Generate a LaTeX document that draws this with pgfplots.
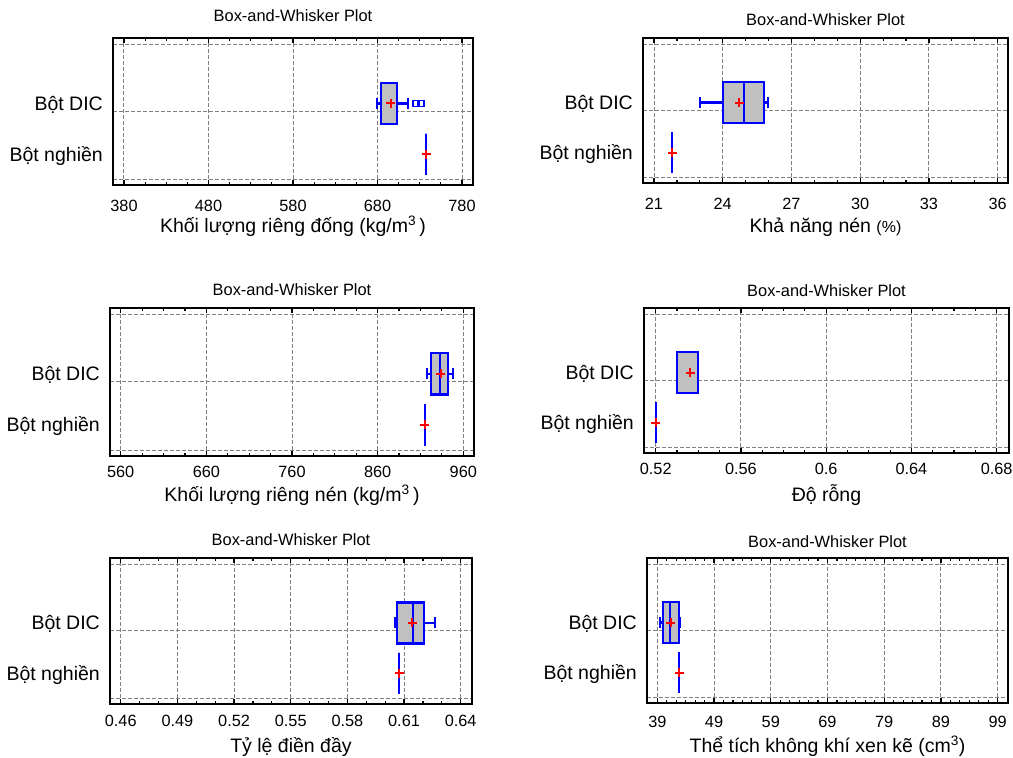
\documentclass[border=0pt]{standalone}
\usepackage{fontspec}
\setmainfont{Liberation Sans}
\usepackage{pgfplots}
\pgfplotsset{compat=1.18}
\usepgfplotslibrary{statistics}
\definecolor{boxgray}{RGB}{192,192,192}
\definecolor{gridgray}{RGB}{128,128,128}
\pgfplotsset{
  bw/.style={
    scale only axis,
    ymin=0, ymax=1,
    axis line style={line width=2.8pt},
    tick align=inside,
    xtick pos=both,
    ytick pos=left,
    ytick={0.04,0.5,0.958},
    yticklabels={},
    y tick style={draw=none},
    extra y ticks={0.21,0.555},
    extra y tick labels={Bột nghiền,Bột DIC},
    extra y tick style={grid=none},
    yticklabel style={font=\fontsize{19.5}{22}\selectfont, anchor=base east, inner sep=0pt, xshift=-10pt, yshift=-7pt},
    xmajorgrids, ymajorgrids,
    major grid style={gridgray, line width=1pt, dash pattern=on 4pt off 2pt},
    tick style={black, line width=1.2pt},
    major tick length=5pt, minor tick length=3pt,
    /pgf/number format/assume math mode=true,
    /pgf/number format/fixed,
    xticklabel style={font=\fontsize{16.3}{19}\selectfont, anchor=base, inner sep=0pt},
    title style={font=\fontsize{16.4}{19}\selectfont, anchor=base, at={(axis description cs:0.5,1)}, inner sep=0pt},
    xlabel style={font=\fontsize{19.5}{22}\selectfont, anchor=base, at={(axis description cs:0.5,0)}, inner sep=0pt},
    title={Box-and-Whisker Plot},
    boxplot/draw direction=x,
    boxplot/box extend=0.28,
    boxplot/whisker extend=0.075,
  },
  dic/.style={boxplot prepared={#1, draw position=0.555}, draw=blue, fill=boxgray, line width=2.3pt},
  ngh/.style={boxplot prepared={#1, draw position=0.21}, draw=blue, line width=2.3pt},
  mean/.style={only marks, mark=+, mark size=4.5pt, red, line width=2pt, forget plot},
  med/.style={blue, line width=2.3pt, forget plot},
}
\begin{document}
\begin{tikzpicture}[x=1pt,y=1pt]
\path[use as bounding box] (0pt,0pt) rectangle (1013pt,758pt);

% Panel 1
\begin{axis}[bw, at={(113pt,573pt)}, anchor=south west, width=360pt, height=147pt,
  xmin=367, xmax=793, xtick={380,480,580,680,780}, minor x tick num=3,
  xticklabel style={yshift=-26.5pt}, title style={yshift=10pt}, xlabel style={yshift=-48pt},
  xlabel={Khối lượng riêng đống (kg/m\textsuperscript{3}\,)}]
\addplot[dic={lower whisker=679, lower quartile=684, median=684.5, upper quartile=702.7, upper whisker=716}] coordinates {};
\addplot[mean] coordinates {(695.6,0.555)};
\addplot[only marks, mark=square, mark size=3pt, blue, line width=1.5pt] coordinates {(725.6,0.555) (731.5,0.555)};
\addplot[mean] coordinates {(737.4,0.21)};
\addplot[ngh={lower whisker=737.4, lower quartile=737.4, median=737.4, upper quartile=737.4, upper whisker=737.4}] coordinates {};
\end{axis}

% Panel 2
\begin{axis}[bw, at={(643pt,575pt)}, anchor=south west, width=365pt, height=145pt,
  xmin=20.52, xmax=36.45, xtick={21,24,27,30,33,36}, minor x tick num=2,
  xticklabel style={yshift=-26.5pt}, title style={yshift=6pt}, xlabel style={yshift=-50pt},
  xlabel={Khả năng nén {\fontsize{16}{19}\selectfont (\%)}}]
\addplot[dic={lower whisker=23.0, lower quartile=24.0, median=24.94, upper quartile=25.8, upper whisker=25.99}] coordinates {};
\addplot[mean] coordinates {(24.71,0.555)};
\addplot[med] coordinates {(24.94,0.415) (24.94,0.695)};
\addplot[mean] coordinates {(21.8,0.21)};
\addplot[ngh={lower whisker=21.8, lower quartile=21.8, median=21.8, upper quartile=21.8, upper whisker=21.8}] coordinates {};
\end{axis}

% Panel 3
\begin{axis}[bw, at={(110pt,302pt)}, anchor=south west, width=364pt, height=148pt,
  xmin=547.5, xmax=972.5, xtick={560,660,760,860,960}, minor x tick num=3,
  xticklabel style={yshift=-22pt}, title style={yshift=6pt}, xlabel style={yshift=-45.7pt},
  xlabel={Khối lượng riêng nén (kg/m\textsuperscript{3}\,)}]
\addplot[dic={lower whisker=917.9, lower quartile=921.9, median=932.8, upper quartile=942.4, upper whisker=947.6}] coordinates {};
\addplot[mean] coordinates {(933.5,0.555)};
\addplot[med] coordinates {(932.8,0.415) (932.8,0.695)};
\addplot[mean] coordinates {(914.9,0.21)};
\addplot[ngh={lower whisker=914.9, lower quartile=914.9, median=914.9, upper quartile=914.9, upper whisker=914.9}] coordinates {};
\end{axis}

% Panel 4
\begin{axis}[bw, at={(644pt,305pt)}, anchor=south west, width=365pt, height=145pt,
  xmin=0.5145, xmax=0.6858, xtick={0.52,0.56,0.6,0.64,0.68}, minor x tick num=3,
  xticklabel style={yshift=-22pt}, title style={yshift=5pt}, xlabel style={yshift=-48.7pt},
  xlabel={Độ rỗng}]
\addplot[dic={lower whisker=0.5299, lower quartile=0.5299, median=0.5299, upper quartile=0.5400, upper whisker=0.5400}] coordinates {};
\addplot[mean] coordinates {(0.5362,0.555)};
\addplot[mean] coordinates {(0.5200,0.21)};
\addplot[ngh={lower whisker=0.5200, lower quartile=0.5200, median=0.5200, upper quartile=0.5200, upper whisker=0.5200}] coordinates {};
\end{axis}

% Panel 5
\begin{axis}[bw, at={(110pt,54pt)}, anchor=south west, width=362pt, height=146pt,
  xmin=0.4543, xmax=0.646, xtick={0.46,0.49,0.52,0.55,0.58,0.61,0.64}, minor x tick num=2,
  xticklabel style={yshift=-22.5pt}, title style={yshift=6pt}, xlabel style={yshift=-49pt},
  xlabel={Tỷ lệ điền đầy}]
\addplot[dic={lower whisker=0.6052, lower quartile=0.6061, median=0.6149, upper quartile=0.6206, upper whisker=0.6264}] coordinates {};
\addplot[mean] coordinates {(0.6144,0.555)};
\addplot[med] coordinates {(0.6149,0.415) (0.6149,0.695)};
\addplot[mean] coordinates {(0.6075,0.21)};
\addplot[ngh={lower whisker=0.6075, lower quartile=0.6075, median=0.6075, upper quartile=0.6075, upper whisker=0.6075}] coordinates {};
\end{axis}

% Panel 6
\begin{axis}[bw, at={(647pt,55pt)}, anchor=south west, width=361pt, height=145pt,
  xmin=37.18, xmax=100.82, xtick={39,49,59,69,79,89,99}, minor x tick num=5,
  xticklabel style={yshift=-25pt}, title style={yshift=4pt}, xlabel style={yshift=-49.7pt},
  xlabel={Thể tích không khí xen kẽ (cm\textsuperscript{3})}]
\addplot[dic={lower whisker=39.53, lower quartile=40.06, median=41.24, upper quartile=42.88, upper whisker=43.05}] coordinates {};
\addplot[mean] coordinates {(41.35,0.555)};
\addplot[med] coordinates {(41.24,0.415) (41.24,0.695)};
\addplot[mean] coordinates {(42.83,0.21)};
\addplot[ngh={lower whisker=42.83, lower quartile=42.83, median=42.83, upper quartile=42.83, upper whisker=42.83}] coordinates {};
\end{axis}
\end{tikzpicture}
\end{document}
